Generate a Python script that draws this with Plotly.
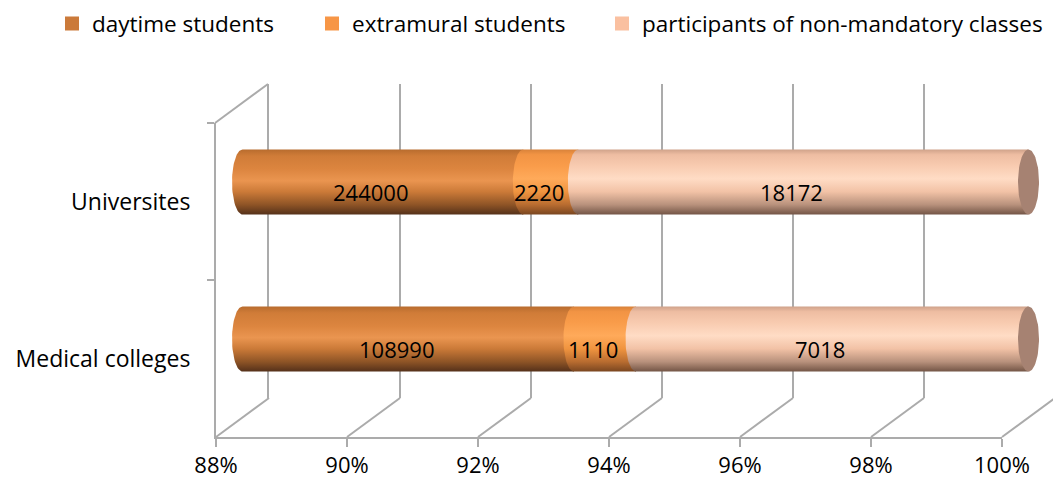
import numpy as np
import plotly.graph_objects as go

# ---------------- data ----------------
categories = ["Medical colleges", "Universites"]
series_names = ["daytime students", "extramural students",
                "participants of non-mandatory classes"]
daytime = [108990, 244000]
extramural = [1110, 2220]
participants = [7018, 18172]
x_ticks = [88, 90, 92, 94, 96, 98, 100]
x_tick_labels = ["88%", "90%", "92%", "94%", "96%", "98%", "100%"]
AXIS_MIN, AXIS_MAX = 88, 100

# ---------------- styles / geometry ----------------
W, H = 1053, 481
FRONT_X0, FRONT_X1 = 216, 1002
FRONT_TOP, FRONT_FLOOR = 123, 437
DX, DY = 53, 39                       # depth offset of the back wall
PXU = (FRONT_X1 - FRONT_X0) / (AXIS_MAX - AXIS_MIN)   # px per percent
FONT = "Open Sans"
GRID = "#ABABAB"

legend_colors = ["#CB7A3A", "#F79646", "#FAC0A0"]
legend_text_px = [91, 351, 641]
LEGEND_TEXT_OFFSET = 39
gradients = [
    [[0, "#55311A"], [0.15, "#8E5426"], [0.35, "#CB7A38"], [0.52, "#EA9550"],
     [0.7, "#DC853F"], [0.9, "#D07C38"], [1, "#B86C2E"]],
    [[0, "#7A4620"], [0.15, "#B86C30"], [0.35, "#F0943F"], [0.55, "#FFAA5A"],
     [0.75, "#F99C4A"], [0.92, "#F29444"], [1, "#D8823A"]],
    [[0, "#735546"], [0.15, "#B8917C"], [0.35, "#F2C2A6"], [0.55, "#FFDCC5"],
     [0.75, "#F8CBB0"], [0.92, "#EEBDA2"], [1, "#CFA28A"]],
]
CAP_COLOR = "#A68272"


def px(x):
    return x / W


def py(y):
    return 1 - y / H


# ---------------- derived values ----------------
series = [daytime, extramural, participants]
totals = [sum(s[i] for s in series) for i in range(len(categories))]
pct = [[s[i] / totals[i] * 100 for i in range(len(categories))] for s in series]

fig = go.Figure()

# invisible trace for front category axis (subplot xy, drawn first)
fig.add_trace(go.Scatter(x=[None, None], y=categories, xaxis="x", yaxis="y",
                         showlegend=False, hoverinfo="skip"))
# invisible trace for back wall (subplot x2y2)
fig.add_trace(go.Scatter(x=[None], y=[None], xaxis="x2", yaxis="y2",
                         showlegend=False, hoverinfo="skip"))

# legend entries (one legend box per entry to mimic the original spacing)
legend_ids = ["legend", "legend2", "legend3"]
for name, col, lid in zip(series_names, legend_colors, legend_ids):
    fig.add_trace(go.Bar(x=[None], y=[None], name=name, marker_color=col,
                         marker_line=dict(color=col, width=2),
                         xaxis="x3", yaxis="y3", orientation="h", legend=lid))

# cylinders (middle plane, subplot x3y3, drawn last)
BAR_HALF = 0.207
RX = 10.5 / PXU
t = np.linspace(np.pi / 2, 3 * np.pi / 2, 41)
annotations = []
for ci, cat in enumerate(categories):
    yc = ci
    start = AXIS_MIN
    cum = 0.0
    for si in range(len(series)):
        cum += pct[si][ci]
        end = min(cum, AXIS_MAX)
        xs = list(start + RX * np.cos(t)) + [end, end, start]
        ys = list(yc + BAR_HALF * np.sin(t)) + [yc - BAR_HALF, yc + BAR_HALF, yc + BAR_HALF]
        fig.add_trace(go.Scatter(
            x=xs, y=ys, mode="lines", fill="toself", line=dict(width=0),
            fillgradient=dict(type="vertical", colorscale=gradients[si]),
            xaxis="x3", yaxis="y3", showlegend=False, hoverinfo="skip"))
        annotations.append(dict(
            x=(start + end) / 2, y=yc, xref="x3", yref="y3", showarrow=False,
            text=str(series[si][ci]), xshift=-12, yshift=-10,
            font=dict(family=FONT, size=22, color="#000000")))
        start = end
    # right end cap
    tt = np.linspace(0, 2 * np.pi, 81)
    fig.add_trace(go.Scatter(
        x=AXIS_MAX + RX * np.cos(tt), y=yc + BAR_HALF * np.sin(tt),
        mode="lines", fill="toself", line=dict(width=0), fillcolor=CAP_COLOR,
        xaxis="x3", yaxis="y3", showlegend=False, hoverinfo="skip"))

# floor diagonals + top-left wall edge
shapes = []
for v in x_ticks:
    fx = FRONT_X0 + (v - AXIS_MIN) * PXU
    shapes.append(dict(type="line", xref="paper", yref="paper",
                       x0=px(fx), y0=py(FRONT_FLOOR), x1=px(fx + DX), y1=py(FRONT_FLOOR - DY),
                       line=dict(color=GRID, width=2), layer="below"))
shapes.append(dict(type="line", xref="paper", yref="paper",
                   x0=px(FRONT_X0 - 1), y0=py(FRONT_TOP), x1=px(FRONT_X0 - 1 + DX), y1=py(FRONT_TOP - DY),
                   line=dict(color=GRID, width=2), layer="below"))

mid_dx, mid_dy = DX / 2, DY / 2
x3_lo, x3_hi = 87.6, 100.3

legend_common = dict(orientation="h", y=0.995, xanchor="left", yanchor="top",
                     font=dict(family=FONT, size=22.5, color="#000000"),
                     itemwidth=30, bgcolor="rgba(0,0,0,0)")
legends = {}
for lid, tx in zip(legend_ids, legend_text_px):
    legends[lid] = dict(legend_common, x=px(tx - LEGEND_TEXT_OFFSET))

fig.update_layout(
    template="none",
    width=W, height=H, margin=dict(l=0, r=0, t=0, b=0, pad=0, autoexpand=False),
    paper_bgcolor="white", plot_bgcolor="rgba(0,0,0,0)",
    font=dict(family=FONT, size=22, color="#000000"),
    showlegend=True,
    # front plane (floor edge, category axis, tick labels)
    xaxis=dict(domain=[px(FRONT_X0), px(FRONT_X1)], range=[AXIS_MIN, AXIS_MAX],
               tickvals=x_ticks, ticktext=x_tick_labels, ticks="outside", ticklen=8,
               tickwidth=2, tickcolor=GRID, showline=True, linecolor=GRID, linewidth=2,
               showgrid=False, zeroline=False, anchor="y", fixedrange=True,
               automargin=False, tickfont=dict(family=FONT, size=22, color="#000000")),
    yaxis=dict(domain=[py(FRONT_FLOOR), py(FRONT_TOP)], type="category",
               categoryorder="array", categoryarray=categories,
               range=[-0.5, len(categories) - 0.5], tickson="boundaries",
               ticks="outside", ticklen=7, tickwidth=2, tickcolor=GRID, showline=True,
               linecolor=GRID, linewidth=2, showgrid=False, zeroline=False,
               anchor="x", ticklabelstandoff=19, fixedrange=True, automargin=False,
               tickfont=dict(family=FONT, size=23, color="#000000")),
    # back wall (gridlines)
    xaxis2=dict(domain=[px(FRONT_X0 + DX), 1.0],
                range=[AXIS_MIN, AXIS_MIN + (W - FRONT_X0 - DX) / PXU],
                tickvals=x_ticks, showticklabels=False, ticks="", showgrid=True,
                gridcolor=GRID, gridwidth=2, zeroline=False, showline=False,
                anchor="y2", fixedrange=True, automargin=False),
    yaxis2=dict(domain=[py(FRONT_FLOOR - DY), py(FRONT_TOP - DY)], range=[0, 1],
                showticklabels=False, ticks="", showgrid=False, zeroline=False,
                showline=True, linecolor=GRID, linewidth=2, anchor="x2",
                fixedrange=True, automargin=False),
    # middle plane (cylinders)
    xaxis3=dict(domain=[px(FRONT_X0 + mid_dx + (x3_lo - AXIS_MIN) * PXU),
                        px(FRONT_X0 + mid_dx + (x3_hi - AXIS_MIN) * PXU)],
                range=[x3_lo, x3_hi], visible=False, anchor="y3",
                fixedrange=True, automargin=False),
    yaxis3=dict(domain=[py(FRONT_FLOOR - mid_dy), py(FRONT_TOP - mid_dy)],
                range=[-0.5, len(categories) - 0.5], visible=False, anchor="x3",
                fixedrange=True, automargin=False),
    shapes=shapes, annotations=annotations,
    **legends,
)

fig.write_html("out.html")
